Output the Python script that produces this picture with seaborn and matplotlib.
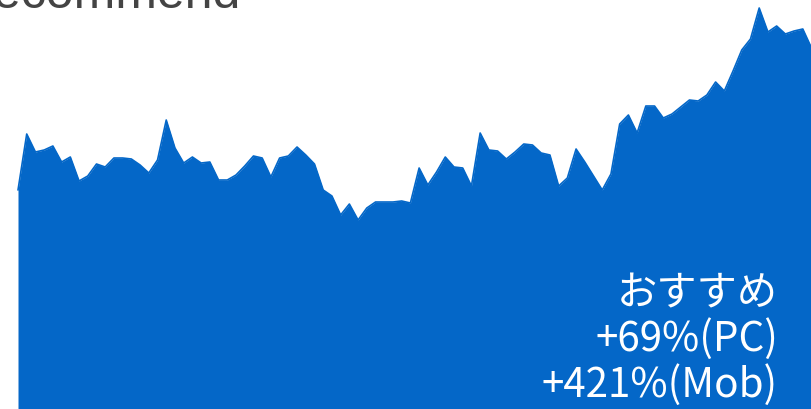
import numpy as np
import matplotlib
matplotlib.use("Agg")
import matplotlib.pyplot as plt
import seaborn as sns

# weekly index of "Recommend" interest (arbitrary units)
weeks = np.arange(92)
interest = [219, 275, 257, 259, 263, 247, 252, 228, 233, 245,
            242, 251, 251, 250, 244, 236, 249, 289, 261, 246,
            252, 246, 247, 229, 229, 234, 243, 253, 251, 232,
            251, 253, 262, 254, 245, 219, 213, 194, 205, 189,
            201, 207, 207, 207, 208, 206, 241, 224, 237, 252,
            242, 241, 223, 276, 259, 258, 250, 257, 265, 264,
            256, 254, 223, 231, 260, 247, 233, 219, 235, 285,
            294, 276, 303, 303, 291, 295, 302, 309, 308, 314,
            327, 318, 338, 359, 370, 401, 377, 383, 375, 378,
            380, 361]

title = "Recommend"
label_lines = ["おすすめ", "+69%(PC)", "+421%(Mob)"]

sns.set_style("white")
plt.rcParams['font.family'] = ['Noto Sans CJK JP', 'DejaVu Sans']

W, H = 811, 409
fig = plt.figure(figsize=(W / 100, H / 100), dpi=100)
ax = fig.add_axes([0, 0, 1, 1])

blue = "#0467C8"
sns.lineplot(x=weeks, y=interest, ax=ax, color=blue, linewidth=1.2)
ax.fill_between(weeks, interest, 0, color=blue, linewidth=0)

step = 8.72
ax.set_xlim(-18 / step, (W - 18) / step)
ax.set_ylim(0, H)
ax.axis("off")


def px(x, y):
    return x / W, 1 - y / H


fig.text(*px(241, 8), title, ha="right", va="baseline", fontsize=36,
         color="#444444", family=["Liberation Sans", "DejaVu Sans"])

baselines = [305, 351, 397]
for line, yb in zip(label_lines, baselines):
    fig.text(*px(778, yb), line, ha="right", va="baseline", fontsize=29,
             color="white")

fig.savefig("out.png", dpi=100)
